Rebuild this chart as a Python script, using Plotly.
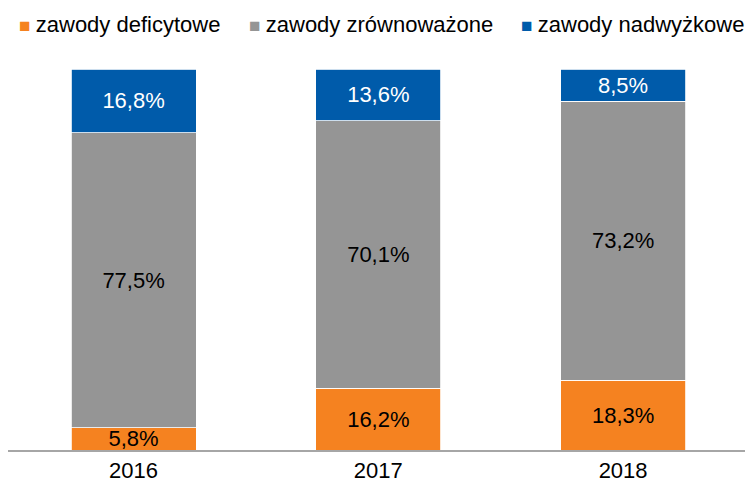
import plotly.graph_objects as go

years = ["2016", "2017", "2018"]
deficytowe = [5.8, 16.2, 18.3]
zrownowazone = [77.5, 70.1, 73.2]
nadwyzkowe = [16.8, 13.6, 8.5]

series = [
    ("zawody deficytowe", deficytowe, "#F58220", "#000000"),
    ("zawody zrównoważone", zrownowazone, "#959595", "#000000"),
    ("zawody nadwyżkowe", nadwyzkowe, "#005BAA", "#FFFFFF"),
]
legend_x = [0.0122, 0.324, 0.693]

FONT = "Liberation Sans, Arial"

def fmt(v):
    return f"{v:.1f}".replace(".", ",") + "%"

fig = go.Figure()
for name, vals, color, tcolor in series:
    fig.add_trace(go.Bar(
        x=years, y=vals, name=name, showlegend=False,
        marker=dict(color=color, line=dict(color="white", width=0.8)),
        text=[fmt(v) for v in vals],
        textposition="inside", insidetextanchor="middle", textangle=0,
        constraintext="none",
        textfont=dict(color=tcolor, size=22, family=FONT),
        hoverinfo="skip",
    ))

for (name, vals, color, tcolor), lx in zip(series, legend_x):
    fig.add_annotation(
        x=lx, y=1.118, xref="paper", yref="paper",
        xanchor="left", yanchor="middle", showarrow=False,
        text=f"<span style='color:{color};font-size:19px'>■ </span>{name}",
        font=dict(family=FONT, size=22, color="#000000"),
    )

fig.update_layout(
    width=747, height=486,
    barmode="stack", barnorm="percent", bargap=0.489,
    margin=dict(l=8, r=2, t=69, b=36),
    paper_bgcolor="white", plot_bgcolor="white",
    font=dict(family=FONT, size=22, color="#000000"),
    showlegend=False,
    xaxis=dict(showline=True, linecolor="#A6A6A6", linewidth=1.5, ticks="",
               showgrid=False, range=[-0.513, 2.498],
               tickfont=dict(size=22, color="#000000")),
    yaxis=dict(range=[0, 100], visible=False, showgrid=False, zeroline=False),
)

fig.write_html("out.html", config={"displayModeBar": False},
               post_script="document.body.style.margin='0';")
